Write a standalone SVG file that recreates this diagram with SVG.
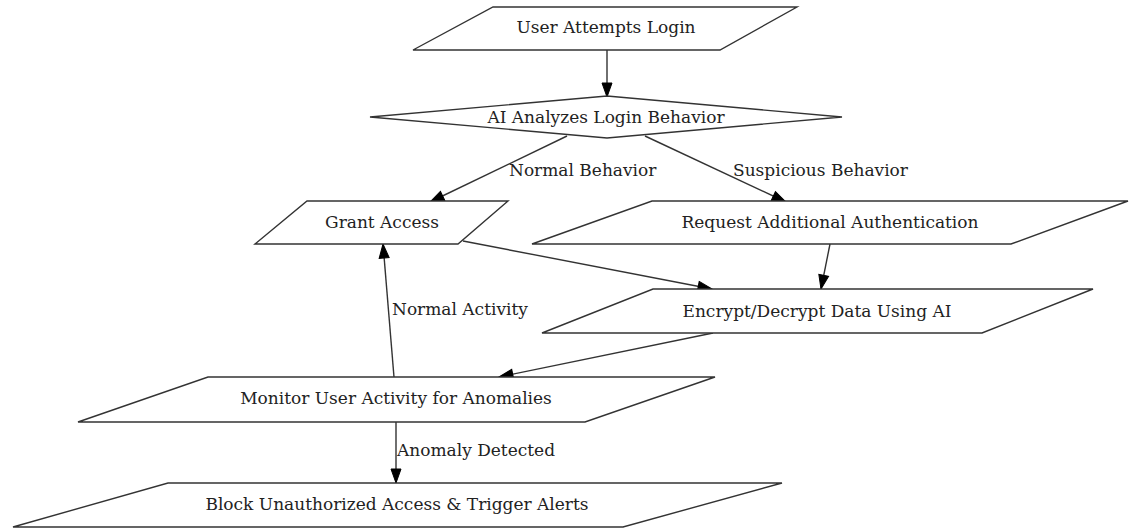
<svg xmlns="http://www.w3.org/2000/svg" width="1129" height="529" viewBox="0 0 1129 529">
<defs>
<style>
.shape{fill:#fff;stroke:#333;stroke-width:1.4}
.lbl{font-family:"DejaVu Serif","Liberation Serif",serif;font-size:17px;fill:#222;dominant-baseline:central}
.c{text-anchor:middle}
.edge{fill:none;stroke:#333;stroke-width:1.4}
</style>
<marker id="arr" markerUnits="userSpaceOnUse" markerWidth="16" markerHeight="12" viewBox="0 0 16 12" refX="15" refY="6" orient="auto">
<path d="M1,1 L15,6 L1,11 Z" fill="#000" stroke="#000" stroke-width="1"/>
</marker>
</defs>
<rect width="1129" height="529" fill="#fff"/>
<g id="edges">
<path class="edge" d="M607,50 L607,97" marker-end="url(#arr)"/>
<path class="edge" d="M567,136 L430,202" marker-end="url(#arr)"/>
<text class="lbl" x="509" y="170">Normal Behavior</text>
<path class="edge" d="M645,136 L786,202" marker-end="url(#arr)"/>
<text class="lbl" x="733" y="170">Suspicious Behavior</text>
<path class="edge" d="M463,241 L712,289" marker-end="url(#arr)"/>
<path class="edge" d="M830,244 L821,289" marker-end="url(#arr)"/>
<path class="edge" d="M713,333 L499,377" marker-end="url(#arr)"/>
<path class="edge" d="M394,377 L383,244" marker-end="url(#arr)"/>
<text class="lbl" x="392" y="309">Normal Activity</text>
<path class="edge" d="M396,422 L396,483" marker-end="url(#arr)"/>
<text class="lbl" x="397" y="450">Anomaly Detected</text>
</g>
<g id="n_user">
<polygon class="shape" points="493,7 797,7 720,50 413,50"/>
<text class="lbl c" x="606" y="27">User Attempts Login</text>
</g>
<g id="n_ai">
<polygon class="shape" points="607,96 842,117 607,138 370,117"/>
<text class="lbl c" x="606" y="117">AI Analyzes Login Behavior</text>
</g>
<g id="n_grant">
<polygon class="shape" points="307,201 508,201 458,244 255,244"/>
<text class="lbl c" x="382" y="222">Grant Access</text>
</g>
<g id="n_request">
<polygon class="shape" points="652,201 1128,201 1011,244 532,244"/>
<text class="lbl c" x="830" y="222">Request Additional Authentication</text>
</g>
<g id="n_encrypt">
<polygon class="shape" points="653,289 1093,289 982,333 542,333"/>
<text class="lbl c" x="817" y="311">Encrypt/Decrypt Data Using AI</text>
</g>
<g id="n_monitor">
<polygon class="shape" points="208,377 715,377 585,422 78,422"/>
<text class="lbl c" x="396" y="398">Monitor User Activity for Anomalies</text>
</g>
<g id="n_block">
<polygon class="shape" points="168,483 782,483 623,527 13,527"/>
<text class="lbl c" x="397" y="504">Block Unauthorized Access &amp; Trigger Alerts</text>
</g>
</svg>
